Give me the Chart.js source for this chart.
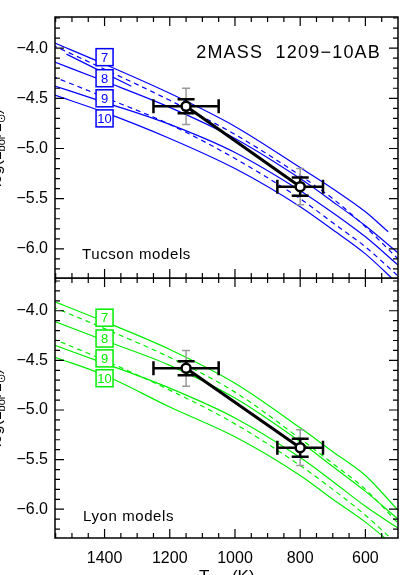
<!DOCTYPE html>
<html>
<head>
<meta charset="utf-8">
<title>2MASS 1209-10AB</title>
<script src="https://cdn.jsdelivr.net/npm/chart.js@4.4.1/dist/chart.umd.min.js"></script>
<style>
    body { margin: 0; background: #fff; }
    #wrap { position: relative; width: 415px; height: 575px; overflow: hidden; background: #fff; }
    #topCanvas { position: absolute; left: 0; top: 0; }
    #botCanvas { position: absolute; left: 0; top: 278px; }
</style>
</head>
<body>
<div id="wrap">
    <canvas id="topCanvas" width="415" height="280"></canvas>
    <canvas id="botCanvas" width="415" height="297"></canvas>
</div>
<script>
// Axis ticks
const xTicks = [1400, 1200, 1000, 800, 600];
const yTicks = [-6.0, -5.5, -5.0, -4.5, -4.0];

// Teff grid of the model tracks (K)
const modelT = [1560, 1400, 1200, 1000, 800, 700, 600, 500];
const track7T = [1560, 1400, 1200, 1000, 800, 700, 600, 530];

// Tucson models, log(Lbol/Lsun)
const tucson7 = [-3.94, -4.16, -4.45, -4.78, -5.19, -5.40, -5.63, -5.83];
const tucson8 = [-4.13, -4.33, -4.59, -4.90, -5.30, -5.53, -5.77, -6.04];
const tucson9 = [-4.37, -4.54, -4.76, -5.04, -5.42, -5.64, -5.88, -6.16];
const tucson10 = [-4.46, -4.64, -4.90, -5.20, -5.58, -5.81, -6.05, -6.35];
const tucsonDashA = [-3.97, -4.21, -4.52, -4.86, -5.27, -5.50, -5.78, -6.10];
const tucsonDashB = [-4.28, -4.49, -4.76, -5.10, -5.50, -5.74, -5.98, -6.27];
const tucsonShortT = [1517, 1318];
const tucsonShort = [-4.06, -4.38];

// Lyon models, log(Lbol/Lsun)
const lyon7 = [-3.90, -4.11, -4.39, -4.73, -5.18, -5.42, -5.66, -6.01];
const lyon8 = [-4.10, -4.30, -4.55, -4.88, -5.32, -5.57, -5.82, -6.10];
const lyon9 = [-4.34, -4.53, -4.78, -5.08, -5.48, -5.72, -5.97, -6.19];
const lyon10 = [-4.46, -4.65, -4.97, -5.27, -5.66, -5.90, -6.13, -6.40];
const lyonDashA = [-3.96, -4.18, -4.47, -4.82, -5.29, -5.54, -5.80, -6.14];
const lyonDashB = [-4.28, -4.50, -4.80, -5.14, -5.56, -5.80, -6.06, -6.36];

// 2MASS 1209-10 A and B
const objT = [1150, 800];
const objTErr = [100, 70];
const objL = [-4.58, -5.38];
const objLErr = [0.07, 0.09];
const objLErrSys = [0.18, 0.18];

// track labels
const labelNames = ['7', '8', '9', '10'];
const labelT = 1400;
const tucsonLabelL = [-4.09, -4.30, -4.50, -4.70];
const lyonLabelL = [-4.07, -4.28, -4.48, -4.68];

const FONT = '"Liberation Sans", Arial, Helvetica, sans-serif';
const BLUE = '#0000ff';
const GREEN = '#00ee00';

function track(xs, ys, color, dashed) {
    return {
        data: xs.map((x, i) => ({ x: x, y: ys[i] })),
        showLine: true,
        borderColor: color,
        borderWidth: 1.2,
        borderDash: dashed ? [5, 4] : [],
        cubicInterpolationMode: 'monotone',
        pointRadius: 0,
        fill: false,
        order: 3
    };
}

function objectSets() {
    return [{
        data: objT.map((t, i) => ({ x: t, y: objL[i] })),
        showLine: true,
        borderColor: '#000',
        borderWidth: 3,
        pointRadius: 0,
        order: 2
    }, {
        label: 'obj',
        data: objT.map((t, i) => ({ x: t, y: objL[i] })),
        showLine: false,
        pointRadius: 4.5,
        pointBorderWidth: 2.5,
        pointBorderColor: '#000',
        pointBackgroundColor: '#fff',
        order: 1
    }];
}

// Error bars, drawn just before the markers
const errorBars = {
    id: 'errorBars',
    beforeDatasetDraw(chart, args) {
        if (chart.data.datasets[args.index].label !== 'obj') return;
        const ctx = chart.ctx, xs = chart.scales.x, ys = chart.scales.y;
        ctx.save();
        objT.forEach((t, i) => {
            const px = xs.getPixelForValue(t);
            const py = ys.getPixelForValue(objL[i]);
            // systematic (grey)
            const g1 = ys.getPixelForValue(objL[i] + objLErrSys[i]);
            const g2 = ys.getPixelForValue(objL[i] - objLErrSys[i]);
            ctx.strokeStyle = '#999';
            ctx.lineWidth = 1.5;
            ctx.beginPath();
            ctx.moveTo(px, g1); ctx.lineTo(px, g2);
            ctx.moveTo(px - 4, g1); ctx.lineTo(px + 4, g1);
            ctx.moveTo(px - 4, g2); ctx.lineTo(px + 4, g2);
            ctx.stroke();
            // black
            ctx.strokeStyle = '#000';
            ctx.lineWidth = 2.5;
            const x1 = xs.getPixelForValue(t + objTErr[i]);
            const x2 = xs.getPixelForValue(t - objTErr[i]);
            const b1 = ys.getPixelForValue(objL[i] + objLErr[i]);
            const b2 = ys.getPixelForValue(objL[i] - objLErr[i]);
            ctx.beginPath();
            ctx.moveTo(x1, py); ctx.lineTo(x2, py);
            ctx.moveTo(x1, py - 7); ctx.lineTo(x1, py + 7);
            ctx.moveTo(x2, py - 7); ctx.lineTo(x2, py + 7);
            ctx.moveTo(px, b1); ctx.lineTo(px, b2);
            ctx.moveTo(px - 8.5, b1); ctx.lineTo(px + 8.5, b1);
            ctx.moveTo(px - 8.5, b2); ctx.lineTo(px + 8.5, b2);
            ctx.stroke();
        });
        ctx.restore();
    }
};

// Box with inward ticks on all four sides
const frame = {
    id: 'frame',
    afterDraw(chart) {
        const ctx = chart.ctx, a = chart.chartArea;
        const xs = chart.scales.x, ys = chart.scales.y;
        ctx.save();
        ctx.strokeStyle = '#000';
        ctx.lineWidth = 1.5;
        ctx.strokeRect(a.left, a.top, a.right - a.left, a.bottom - a.top);
        ctx.lineWidth = 1.2;
        ctx.beginPath();
        for (let k = 500; k <= 1550; k += 50) {
            const px = xs.getPixelForValue(k);
            if (px < a.left || px > a.right - 1) continue;
            const len = k % 200 === 0 ? 9 : 5;
            ctx.moveTo(px, a.bottom); ctx.lineTo(px, a.bottom - len);
            ctx.moveTo(px, a.top); ctx.lineTo(px, a.top + len);
        }
        for (let k = -63; k <= -36; k++) {
            const py = ys.getPixelForValue(k / 10);
            if (py < a.top + 1 || py > a.bottom - 1) continue;
            const len = k % 5 === 0 ? 9 : 5;
            ctx.moveTo(a.left, py); ctx.lineTo(a.left + len, py);
            ctx.moveTo(a.right, py); ctx.lineTo(a.right - len, py);
        }
        ctx.stroke();
        ctx.restore();
    }
};

function drawLabelBoxes(chart, values, color) {
    const ctx = chart.ctx, xs = chart.scales.x, ys = chart.scales.y;
    const px = xs.getPixelForValue(labelT);
    ctx.save();
    ctx.font = '13px ' + FONT;
    ctx.textAlign = 'center';
    ctx.textBaseline = 'middle';
    values.forEach((v, i) => {
        const py = ys.getPixelForValue(v);
        ctx.fillStyle = '#fff';
        ctx.fillRect(px - 8.5, py - 8.5, 17, 17);
        ctx.strokeStyle = color;
        ctx.lineWidth = 1.5;
        ctx.strokeRect(px - 8.5, py - 8.5, 17, 17);
        ctx.fillStyle = color;
        ctx.fillText(labelNames[i], px, py + 1);
    });
    ctx.restore();
}

function drawYTitle(ctx, cy) {
    const big = '16px ' + FONT, small = '11px ' + FONT;
    const parts = [['log(L', big, 0], ['bol', small, 4], ['/L', big, 0], ['\u2299', small, 4], [')', big, 0]];
    ctx.save();
    ctx.translate(1, cy);
    ctx.rotate(-Math.PI / 2);
    ctx.fillStyle = '#000';
    let w = 0;
    parts.forEach(p => { ctx.font = p[1]; w += ctx.measureText(p[0]).width; });
    let x = -w / 2;
    parts.forEach(p => {
        ctx.font = p[1];
        ctx.fillText(p[0], x, p[2]);
        x += ctx.measureText(p[0]).width;
    });
    ctx.restore();
}

function drawText(ctx, text, x, y, size, align, spacing) {
    ctx.save();
    ctx.font = size + 'px ' + FONT;
    ctx.fillStyle = '#000';
    ctx.textAlign = align;
    ctx.letterSpacing = spacing + 'px';
    ctx.fillText(text, x, y);
    ctx.restore();
}

function panelOptions(yMin, yMax, showX, xHeight, topPad) {
    return {
        responsive: false,
        animation: false,
        layout: { autoPadding: false, padding: { left: 0, right: 17, top: topPad, bottom: 0 } },
        plugins: { legend: { display: false }, tooltip: { enabled: false } },
        scales: {
            x: {
                type: 'linear',
                reverse: true,
                min: 500,
                max: 1552,
                grid: { display: false, tickLength: 0 },
                border: { display: false },
                afterBuildTicks: s => { s.ticks = xTicks.map(v => ({ value: v })); },
                afterFit: s => {
                    s.height = xHeight;
                    s.paddingLeft = 0; s.paddingRight = 0;
                    s.paddingTop = 0; s.paddingBottom = 0;
                },
                ticks: {
                    display: showX,
                    padding: 11,
                    maxRotation: 0,
                    color: '#000',
                    font: { family: FONT, size: 16 },
                    callback: v => String(v)
                }
            },
            y: {
                type: 'linear',
                min: yMin,
                max: yMax,
                grid: { display: false, tickLength: 0 },
                border: { display: false },
                afterBuildTicks: s => { s.ticks = yTicks.map(v => ({ value: v })); },
                afterFit: s => {
                    s.width = 55;
                    s.paddingTop = 0; s.paddingBottom = 0;
                    s.paddingLeft = 0; s.paddingRight = 0;
                },
                ticks: {
                    padding: 7,
                    color: '#000',
                    font: { family: FONT, size: 16 },
                    callback: v => v.toFixed(1).replace('-', '\u2212')
                }
            }
        }
    };
}

// Top panel: Tucson models
new Chart(document.getElementById('topCanvas'), {
    type: 'scatter',
    data: {
        datasets: [
            track(track7T, tucson7, BLUE, false),
            track(modelT, tucson8, BLUE, false),
            track(modelT, tucson9, BLUE, false),
            track(modelT, tucson10, BLUE, false),
            track(modelT, tucsonDashA, BLUE, true),
            track(modelT, tucsonDashB, BLUE, true),
            track(tucsonShortT, tucsonShort, BLUE, false)
        ].concat(objectSets())
    },
    options: panelOptions(-6.29, -3.69, false, 2, 17),
    plugins: [errorBars, frame, {
        id: 'tucsonText',
        afterDatasetsDraw(chart) { drawLabelBoxes(chart, tucsonLabelL, BLUE); },
        afterDraw(chart) {
            const ctx = chart.ctx;
            drawText(ctx, '2MASS  1209\u221210AB', 381, 58, 18, 'right', 1.2);
            drawText(ctx, 'Tucson models', 82, 259, 15, 'left', 0.6);
            drawYTitle(ctx, 148);
        }
    }]
});

// Bottom panel: Lyon models
new Chart(document.getElementById('botCanvas'), {
    type: 'scatter',
    data: {
        datasets: [
            track(modelT, lyon7, GREEN, false),
            track(modelT, lyon8, GREEN, false),
            track(modelT, lyon9, GREEN, false),
            track(modelT, lyon10, GREEN, false),
            track(modelT, lyonDashA, GREEN, true),
            track(modelT, lyonDashB, GREEN, true)
        ].concat(objectSets())
    },
    options: panelOptions(-6.29, -3.67, true, 37, 0),
    plugins: [errorBars, frame, {
        id: 'lyonText',
        afterDatasetsDraw(chart) { drawLabelBoxes(chart, lyonLabelL, GREEN); },
        afterDraw(chart) {
            const ctx = chart.ctx;
            drawText(ctx, 'Lyon models', 83, 243, 15, 'left', 0.6);
            drawYTitle(ctx, 130);
            // x axis title, mostly below the window
            ctx.save();
            ctx.fillStyle = '#000';
            let x = 199;
            ctx.font = '17px ' + FONT;
            ctx.fillText('T', x, 304);
            x += ctx.measureText('T').width;
            ctx.font = '12px ' + FONT;
            ctx.fillText('eff', x, 309);
            x += ctx.measureText('eff').width;
            ctx.font = '17px ' + FONT;
            ctx.fillText('  (K)', x, 304);
            ctx.restore();
        }
    }]
});
</script>
</body>
</html>
